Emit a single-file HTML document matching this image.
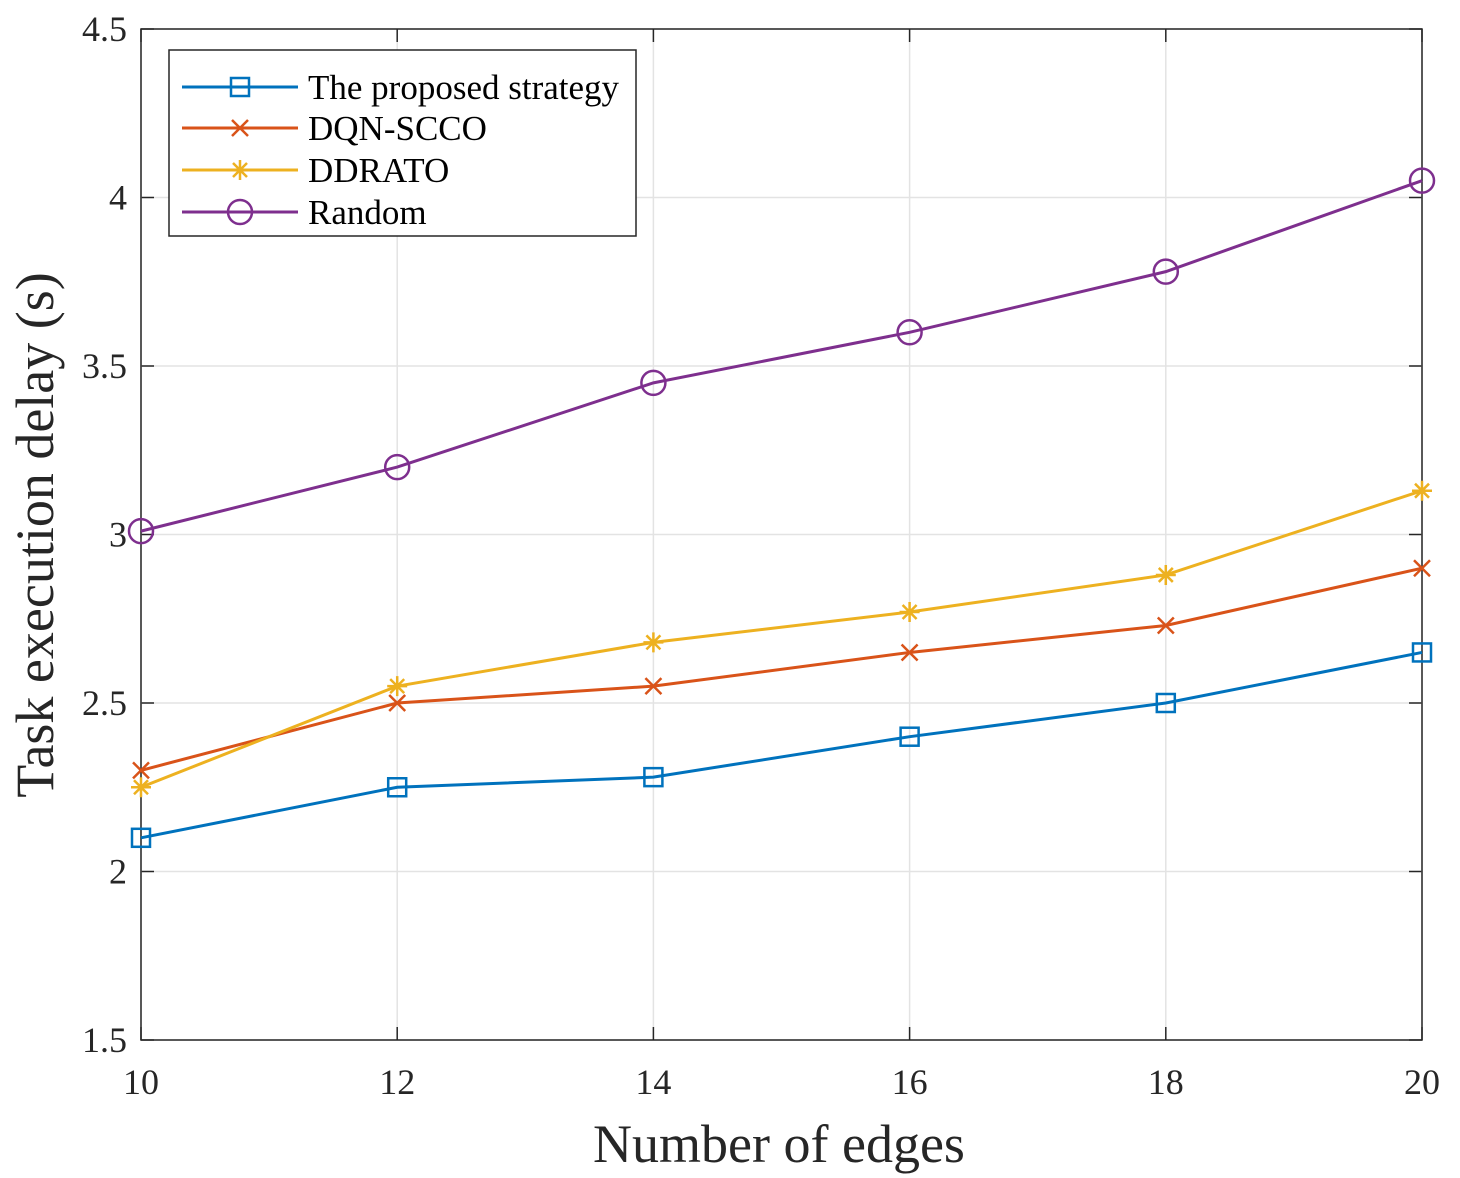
<!DOCTYPE html>
<html><head><meta charset="utf-8"><style>
html,body{margin:0;padding:0;background:#fff;}
svg{display:block;font-family:"Liberation Serif",serif;}
</style></head><body>
<svg id="chart" width="1460" height="1178" viewBox="0 0 1460 1178" xmlns="http://www.w3.org/2000/svg"></svg>
<script>
const categories=[10,12,14,16,18,20];
const proposed=[2.1,2.25,2.28,2.4,2.5,2.65];
const dqn=[2.3,2.5,2.55,2.65,2.73,2.9];
const ddrato=[2.25,2.55,2.68,2.77,2.88,3.13];
const random=[3.01,3.2,3.45,3.6,3.78,4.05];
const yTicks=[1.5,2,2.5,3,3.5,4,4.5];
const yTickLabels=["1.5","2","2.5","3","3.5","4","4.5"];
const xTicks=[10,12,14,16,18,20];
const seriesNames=["The proposed strategy","DQN-SCCO","DDRATO","Random"];

const NS="http://www.w3.org/2000/svg";
const svg=document.getElementById('chart');
const L=141,R=1422,T=29,B=1040;
const X=v=>L+(v-10)/(20-10)*(R-L);
const Y=v=>B-(v-1.5)/(4.5-1.5)*(B-T);
function mk(tag,attrs,parent){const e=document.createElementNS(NS,tag);for(const k in attrs)e.setAttribute(k,attrs[k]);(parent||svg).appendChild(e);return e;}

mk('rect',{x:L,y:T,width:R-L,height:B-T,fill:'#fff'});
yTicks.forEach((v,i)=>{
  const g=mk('line',{x1:L,x2:R,y1:Y(v),y2:Y(v),stroke:'#e3e3e3','stroke-width':1.5});
  
  
  mk('line',{x1:L,x2:L+13,y1:Y(v),y2:Y(v),stroke:'#262626','stroke-width':1.5});
  mk('line',{x1:R,x2:R-13,y1:Y(v),y2:Y(v),stroke:'#262626','stroke-width':1.5});
  const t=mk('text',{x:L-14,y:Y(v)+12,'text-anchor':'end','font-size':36,fill:'#262626'});
  t.textContent=yTickLabels[i];
  
  
});
xTicks.forEach(v=>{
  const g=mk('line',{x1:X(v),x2:X(v),y1:T,y2:B,stroke:'#e3e3e3','stroke-width':1.5});
  
  
  mk('line',{x1:X(v),x2:X(v),y1:B,y2:B-13,stroke:'#262626','stroke-width':1.5});
  mk('line',{x1:X(v),x2:X(v),y1:T,y2:T+13,stroke:'#262626','stroke-width':1.5});
  const t=mk('text',{x:X(v),y:B+54,'text-anchor':'middle','font-size':36,fill:'#262626'});
  t.textContent=String(v);
  
  
});
const frame=mk('rect',{x:L,y:T,width:R-L,height:B-T,fill:'none',stroke:'#262626','stroke-width':1.5});



function marker(type,cx,cy,color,parent){
  const g=mk('g',{},parent);
  if(type==='square'){mk('rect',{x:cx-9,y:cy-9,width:18,height:18,fill:'none',stroke:color,'stroke-width':2.5},g);}
  else if(type==='x'){mk('path',{d:`M${cx-8} ${cy-8}L${cx+8} ${cy+8}M${cx-8} ${cy+8}L${cx+8} ${cy-8}`,stroke:color,'stroke-width':2.5},g);}
  else if(type==='star'){mk('path',{d:`M${cx-10} ${cy}L${cx+10} ${cy}M${cx} ${cy-10}L${cx} ${cy+10}M${cx-7} ${cy-7}L${cx+7} ${cy+7}M${cx-7} ${cy+7}L${cx+7} ${cy-7}`,stroke:color,'stroke-width':2.5},g);}
  else {mk('circle',{cx:cx,cy:cy,r:12,fill:'none',stroke:color,'stroke-width':2.5},g);}
  return g;
}
const series=[[proposed,'#0072BD','square','series-proposed'],[dqn,'#D95319','x','series-dqn-scco'],[ddrato,'#EDB120','star','series-ddrato'],[random,'#7E2F8E','circle','series-random']];
series.forEach(([vals,color,m,name])=>{
  const g=mk('g',{});
  
  
  mk('polyline',{points:vals.map((v,i)=>X(categories[i])+','+Y(v)).join(' '),fill:'none',stroke:color,'stroke-width':3},g);
  vals.forEach((v,i)=>{
    const p=marker(m,X(categories[i]),Y(v),color,g);
    
    
  });
});
const lg=mk('g',{});


mk('rect',{x:169,y:50,width:467,height:186,fill:'#fff',stroke:'#262626','stroke-width':1.5},lg);
const ly=[87,128,170,212];
series.forEach(([vals,color,m,name],i)=>{
  const e=mk('g',{},lg);
  
  
  mk('line',{x1:182,x2:298,y1:ly[i],y2:ly[i],stroke:color,'stroke-width':3},e);
  marker(m,240,ly[i],color,e);
  const t=mk('text',{x:308,y:ly[i]+12,'font-size':35,fill:'#000'},e);
  t.textContent=seriesNames[i];
});
const xt=mk('text',{x:779,y:1162,'text-anchor':'middle','font-size':54,fill:'#262626'});
xt.textContent='Number of edges';


const yt=mk('text',{x:0,y:0,'text-anchor':'middle','font-size':54,fill:'#262626',transform:'translate(53,535) rotate(-90)'});
yt.textContent='Task execution delay (s)';


</script>
</body></html>
